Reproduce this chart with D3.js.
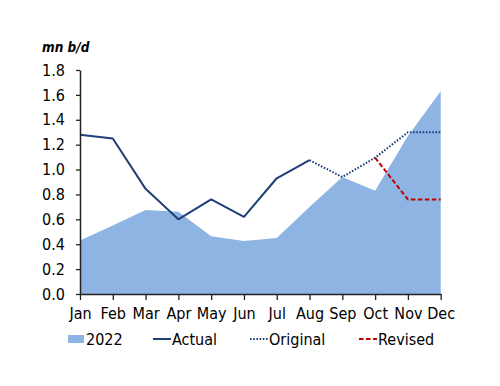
<!DOCTYPE html>
<html>
<head>
<meta charset="utf-8">
<script src="https://cdn.jsdelivr.net/npm/d3@7"></script>
<style>
  body { margin: 0; background: #fff; }
  text { font-family: "DejaVu Sans Condensed", "DejaVu Sans", sans-serif; fill: #000; }
</style>
</head>
<body>
<div id="chart"></div>
<script>
// chart data
const months = ["Jan","Feb","Mar","Apr","May","Jun","Jul","Aug","Sep","Oct","Nov","Dec"];
const y2022 = [0.43, 0.55, 0.675, 0.66, 0.465, 0.425, 0.45, 0.70, 0.94, 0.83, 1.27, 1.63];
const actual = [1.28, 1.25, 0.845, 0.60, 0.76, 0.62, 0.93, 1.075, null, null, null, null];
const original = [null, null, null, null, null, null, null, 1.075, 0.94, 1.095, 1.30, 1.30];
const revised = [null, null, null, null, null, null, null, null, null, 1.095, 0.76, 0.76];
const yTicks = [0, 0.2, 0.4, 0.6, 0.8, 1.0, 1.2, 1.4, 1.6, 1.8];

let margin = {top: 70, left: 80};
let width = 360.7, height = 224;
let fs = "16px";

let svg = d3.select("#chart").append("svg")
    .attr("width", 500).attr("height", 386);
let g = svg.append("g").attr("transform", "translate(" + margin.left + "," + margin.top + ")");

let x = d3.scalePoint().domain(months).range([0, width]);
let y = d3.scaleLinear().domain([0, 1.8]).range([height, 0]);

// area for 2022
let area = d3.area()
    .x((d, i) => x(months[i]))
    .y0(y(0))
    .y1(d => y(d));
g.append("path").attr("d", area(y2022)).attr("fill", "#8db4e2");

function drawLine(vals, color, dash, w) {
    let line = d3.line()
        .defined(d => d != null)
        .x((d, i) => x(months[i]))
        .y(d => y(d));
    g.append("path").attr("d", line(vals))
        .attr("fill", "none")
        .attr("stroke", color)
        .attr("stroke-width", w)
        .attr("stroke-dasharray", dash)
        .attr("stroke-linejoin", "round");
}
drawLine(actual, "#1f3f77", null, 2);
drawLine(original, "#1f3f77", "1.6,1.6", 2);
drawLine(revised, "#c00000", "4.5,2.5", 2);

// axes
let yAxis = g.append("g")
    .call(d3.axisLeft(y).tickValues(yTicks).tickFormat(d3.format(".1f")).tickSize(4).tickSizeOuter(0));
let xAxis = g.append("g")
    .attr("transform", "translate(0," + height + ")")
    .call(d3.axisBottom(x).tickSize(6).tickSizeOuter(0));
[yAxis, xAxis].forEach(a => {
    a.select(".domain").attr("stroke", "#222").attr("stroke-width", 1.5);
    a.selectAll(".tick line").attr("stroke", "#222").attr("stroke-width", 1.3);
    a.selectAll("text").style("font-size", fs).attr("fill", "#000");
});
yAxis.selectAll("text").attr("x", -15);
xAxis.selectAll("text").attr("y", 14);

// unit label
svg.append("text")
    .attr("x", 42).attr("y", 52)
    .style("font-size", "13.5px").style("font-weight", "bold").style("font-style", "italic")
    .text("mn b/d");

// legend
let leg = svg.append("g");
leg.append("rect").attr("x", 68).attr("y", 335).attr("width", 16).attr("height", 8).attr("fill", "#8db4e2");
leg.append("text").attr("x", 86).attr("y", 345).style("font-size", fs).text("2022");

let legItems = [
    {x: 153, label: "Actual", color: "#1f3f77", dash: null},
    {x: 250, label: "Original", color: "#1f3f77", dash: "1.6,1.6"},
    {x: 359, label: "Revised", color: "#c00000", dash: "4.5,2.5"}
];
legItems.forEach(it => {
    leg.append("line").attr("x1", it.x).attr("x2", it.x + 18).attr("y1", 339).attr("y2", 339)
        .attr("stroke", it.color).attr("stroke-width", 2).attr("stroke-dasharray", it.dash);
    leg.append("text").attr("x", it.x + 19).attr("y", 345).style("font-size", fs).text(it.label);
});
</script>
</body>
</html>
